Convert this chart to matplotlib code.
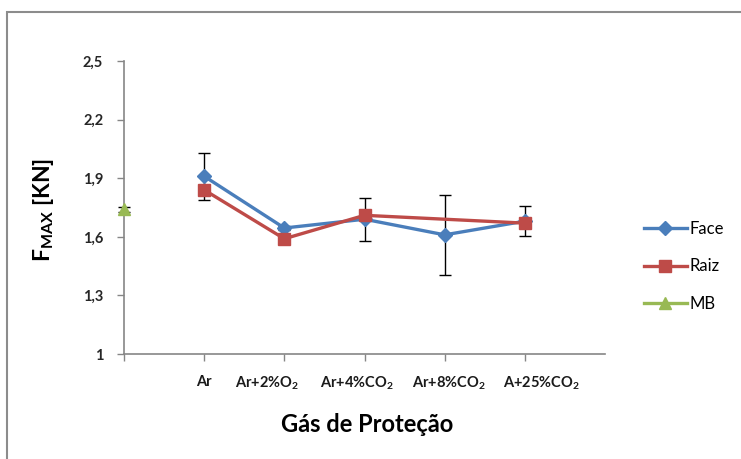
import numpy as np
import matplotlib
matplotlib.use("Agg")
import matplotlib.pyplot as plt
from matplotlib.patches import Rectangle
from matplotlib.transforms import ScaledTranslation

plt.rcParams["font.family"] = ["Lato", "DejaVu Sans"]
plt.rcParams["mathtext.fontset"] = "custom"
plt.rcParams["mathtext.rm"] = "Lato:bold"
plt.rcParams["mathtext.it"] = "Lato:bold"
plt.rcParams["mathtext.bf"] = "Lato:bold"

# category 0 sits on the y axis (base metal), 1..5 are the shielding gases
gases = ["", "Ar", "Ar+2%O$_2$", "Ar+4%CO$_2$", "Ar+8%CO$_2$", "A+25%CO$_2$"]
face = [1.91, 1.645, 1.69, 1.61, 1.68]
face_err = [0.12, 0.012, 0.11, 0.205, 0.077]
raiz = [1.84, 1.59, 1.71, np.nan, 1.67]
mb = [1.74]
mb_err = [0.015]
yticks = [1.0, 1.3, 1.6, 1.9, 2.2, 2.5]
ytick_labels = ["1", "1,3", "1,6", "1,9", "2,2", "2,5"]

c_face = "#4A7EBB"
c_raiz = "#BE4B48"
c_mb = "#98B954"

W, H = 741, 459
fig = plt.figure(figsize=(W / 100, H / 100), dpi=100)
ax = fig.add_axes([124 / W, 1 - 354 / H, (605 - 124) / W, (354 - 61) / H])

x = np.arange(1, 6)
raiz = np.array(raiz, dtype=float)
ok = np.isfinite(raiz)

ax.errorbar(x, face, yerr=face_err, fmt="none", ecolor="black", elinewidth=1.0,
            capsize=4, capthick=1.0, zorder=2)
ax.errorbar([0], mb, yerr=mb_err, fmt="none", ecolor="black", elinewidth=1.0,
            capsize=4, capthick=1.0, zorder=2, clip_on=False)

ax.plot(x, face, color=c_face, lw=2.4, marker="D", ms=7.5, label="Face", zorder=3)
ax.plot(x[ok], raiz[ok], color=c_raiz, lw=2.4, zorder=4)
ax.plot(x, raiz, color=c_raiz, lw=2.4, ls="none", marker="s", ms=9, zorder=4)
ax.plot([], [], color=c_raiz, lw=2.4, marker="s", ms=9, label="Raiz")
ax.plot([0], mb, color=c_mb, lw=2.4, ls="none", marker="^", ms=9, zorder=5, clip_on=False)
ax.plot([], [], color=c_mb, lw=2.4, marker="^", ms=9, label="MB")

ax.set_xlim(0, 6)
ax.set_ylim(1.0, 2.5)
ax.set_xticks(range(6))
ax.set_xticklabels(gases, fontsize=10.5, fontweight="bold", color="#1a1a1a")
ax.set_yticks(yticks)
ax.set_yticklabels(ytick_labels, fontsize=10.5, fontweight="bold", color="#262626")
ax.tick_params(axis="both", direction="out", length=5, width=1, color="#868686")
ax.tick_params(axis="x", pad=10)
ax.tick_params(axis="y", pad=10)
for s in ["top", "right"]:
    ax.spines[s].set_visible(False)
for s in ["left", "bottom"]:
    ax.spines[s].set_color("#868686")
    ax.spines[s].set_linewidth(1.2)

# spread the long gas labels apart a little so they don't run together
shifts = [0, 0, -17, -8, 4, 17]
for lab, dx in zip(ax.get_xticklabels(), shifts):
    lab.set_transform(lab.get_transform() + ScaledTranslation(dx / 100, 0, fig.dpi_scale_trans))

fig.text(44 / W, 1 - 210 / H, "F$_{\\mathrm{MAX}}$ [KN]", rotation=90, ha="center",
         va="center", fontsize=16.5, fontweight="bold")
fig.text(367 / W, 1 - 425 / H, "Gás de Proteção", ha="center", va="center",
         fontsize=17, fontweight="bold")

fig.legend(loc="upper left", bbox_to_anchor=(637 / W, 1 - 214 / H), frameon=False,
           fontsize=12, handlelength=2.6, labelspacing=1.3, handletextpad=0.15,
           borderaxespad=0)

# outer chart frame
fig.patches.append(Rectangle((7 / W, -0.2), 1.2, 1.2 - 12 / H, transform=fig.transFigure,
                             fill=False, edgecolor="#8c8c8c", lw=1.5))

fig.savefig("out.png", dpi=100)
